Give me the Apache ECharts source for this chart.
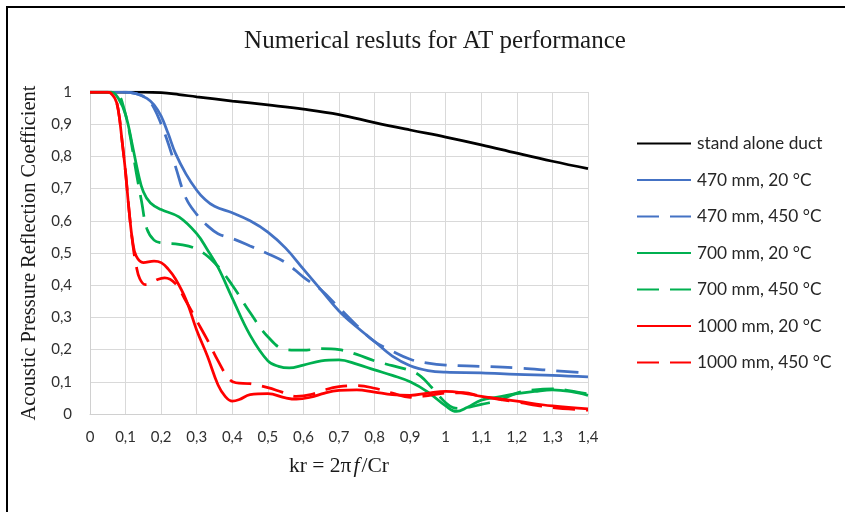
<!DOCTYPE html>
<html>
<head>
<meta charset="utf-8">
<title>Numerical resluts for AT performance</title>
<script src="https://cdn.jsdelivr.net/npm/echarts@6/dist/echarts.min.js"></script>
<style>
  html, body { margin: 0; padding: 0; background: #fff; }
  #chart { width: 845px; height: 512px; }
</style>
</head>
<body>
<div id="chart"></div>
<script>
// Reflection coefficient vs. kr for each duct configuration
const krDuct = [0, 0.1, 0.15, 0.2, 0.25, 0.3, 0.4, 0.5, 0.6, 0.7, 0.8, 0.9, 1.0, 1.1, 1.2, 1.3, 1.4];
const rDuct  = [1, 1, 1, 0.998, 0.992, 0.985, 0.972, 0.96, 0.947, 0.93, 0.905, 0.882, 0.86, 0.836, 0.81, 0.785, 0.762];

const kr470c = [0, 0.1, 0.13, 0.16, 0.18, 0.2, 0.22, 0.24, 0.27, 0.3, 0.32, 0.35, 0.4, 0.45, 0.5, 0.55, 0.6, 0.65, 0.7, 0.75, 0.8, 0.85, 0.9, 0.95, 1.0, 1.1, 1.2, 1.3, 1.4];
const r470c  = [1, 1, 0.995, 0.98, 0.96, 0.925, 0.87, 0.81, 0.745, 0.695, 0.67, 0.645, 0.625, 0.6, 0.565, 0.515, 0.45, 0.385, 0.32, 0.27, 0.225, 0.18, 0.15, 0.135, 0.13, 0.128, 0.123, 0.12, 0.115];

const kr470h = [0, 0.1, 0.13, 0.16, 0.18, 0.2, 0.22, 0.24, 0.27, 0.3, 0.33, 0.36, 0.4, 0.45, 0.5, 0.55, 0.6, 0.65, 0.7, 0.75, 0.8, 0.85, 0.9, 0.95, 1.0, 1.1, 1.2, 1.3, 1.4];
const r470h  = [1, 1, 0.995, 0.98, 0.95, 0.9, 0.84, 0.77, 0.67, 0.62, 0.585, 0.56, 0.545, 0.522, 0.498, 0.47, 0.425, 0.385, 0.33, 0.275, 0.225, 0.195, 0.17, 0.158, 0.152, 0.148, 0.143, 0.135, 0.127];

const kr700c = [0, 0.06, 0.08, 0.1, 0.12, 0.135, 0.15, 0.17, 0.2, 0.25, 0.3, 0.33, 0.36, 0.4, 0.45, 0.5, 0.53, 0.56, 0.6, 0.65, 0.7, 0.75, 0.8, 0.85, 0.9, 0.95, 1.0, 1.03, 1.06, 1.1, 1.15, 1.2, 1.25, 1.3, 1.35, 1.4];
const r700c  = [1, 1, 0.98, 0.93, 0.83, 0.75, 0.69, 0.655, 0.635, 0.612, 0.56, 0.51, 0.455, 0.36, 0.245, 0.165, 0.148, 0.143, 0.152, 0.165, 0.168, 0.155, 0.137, 0.12, 0.1, 0.068, 0.025, 0.008, 0.02, 0.043, 0.053, 0.063, 0.07, 0.075, 0.07, 0.058];

const kr700h = [0, 0.06, 0.08, 0.09, 0.11, 0.13, 0.145, 0.16, 0.18, 0.2, 0.25, 0.3, 0.35, 0.4, 0.45, 0.5, 0.55, 0.6, 0.65, 0.7, 0.75, 0.8, 0.85, 0.9, 0.93, 0.96, 0.98, 1.0, 1.02, 1.04, 1.07, 1.1, 1.15, 1.2, 1.25, 1.3, 1.35, 1.4];
const r700h  = [1, 1, 0.99, 0.97, 0.88, 0.75, 0.66, 0.575, 0.54, 0.532, 0.527, 0.512, 0.47, 0.4, 0.315, 0.24, 0.2, 0.198, 0.203, 0.2, 0.185, 0.165, 0.15, 0.135, 0.117, 0.083, 0.058, 0.035, 0.02, 0.017, 0.022, 0.03, 0.042, 0.065, 0.075, 0.078, 0.072, 0.062];

const kr1000c = [0, 0.05, 0.07, 0.08, 0.09, 0.1, 0.11, 0.12, 0.13, 0.15, 0.18, 0.2, 0.22, 0.24, 0.27, 0.3, 0.33, 0.36, 0.38, 0.4, 0.42, 0.45, 0.5, 0.55, 0.58, 0.62, 0.66, 0.7, 0.75, 0.8, 0.85, 0.9, 0.95, 1.0, 1.05, 1.1, 1.2, 1.3, 1.4];
const r1000c  = [1, 1, 0.98, 0.94, 0.85, 0.75, 0.63, 0.535, 0.49, 0.47, 0.475, 0.47, 0.45, 0.42, 0.355, 0.26, 0.18, 0.09, 0.055, 0.04, 0.045, 0.06, 0.063, 0.05, 0.046, 0.052, 0.065, 0.073, 0.075, 0.068, 0.06, 0.058, 0.065, 0.07, 0.065, 0.055, 0.04, 0.025, 0.016];

const kr1000h = [0, 0.05, 0.07, 0.08, 0.09, 0.1, 0.11, 0.12, 0.13, 0.14, 0.155, 0.17, 0.19, 0.21, 0.24, 0.27, 0.3, 0.33, 0.36, 0.39, 0.41, 0.45, 0.5, 0.54, 0.58, 0.62, 0.66, 0.7, 0.75, 0.8, 0.85, 0.9, 0.95, 1.0, 1.05, 1.1, 1.2, 1.3, 1.4];
const r1000h  = [1, 1, 0.98, 0.94, 0.85, 0.75, 0.63, 0.53, 0.46, 0.42, 0.402, 0.405, 0.418, 0.423, 0.405, 0.35, 0.29, 0.23, 0.165, 0.11, 0.097, 0.094, 0.082, 0.068, 0.055, 0.06, 0.075, 0.085, 0.088, 0.08, 0.065, 0.052, 0.057, 0.065, 0.066, 0.055, 0.037, 0.02, 0.012];

const seriesNames = ['stand alone duct', '470 mm, 20 °C', '470 mm, 450 °C', '700 mm, 20 °C', '700 mm, 450 °C', '1000 mm, 20 °C', '1000 mm, 450 °C'];

// Axis ranges and tick step
const krRange = [0, 1.4];
const rRange = [0, 1];
const tickStep = 0.1;

const pair = (xs, ys) => xs.map((x, i) => [x, ys[i]]);
const decimalComma = v => String(+v.toFixed(1)).replace('.', ',');

const LONG_DASH = [22, 11];
const BLUE = '#4472C4', GREEN = '#00B050', RED = '#FF0000';
const LINE_W = 2.75;

function curve(name, data, color, dashed) {
  return {
    name, type: 'line', data,
    symbol: 'none', smooth: 0.4,
    lineStyle: { color, width: LINE_W, type: dashed ? LONG_DASH : 'solid', cap: 'butt' },
    itemStyle: { color },
    emphasis: { disabled: true },
    animation: false
  };
}

const chart = echarts.init(document.getElementById('chart'), null, { renderer: 'canvas' });

chart.setOption({
  backgroundColor: '#fff',
  animation: false,
  title: {
    text: 'Numerical resluts for AT performance',
    left: 430, top: 24, textAlign: 'center',
    textStyle: { fontFamily: 'Liberation Serif', fontSize: 25, fontWeight: 'normal', color: '#1a1a1a' }
  },
  legend: {
    orient: 'vertical', left: 631, top: 130,
    itemWidth: 54, itemHeight: 16, itemGap: 19.5,
    data: seriesNames,
    itemStyle: { opacity: 0 },
    textStyle: { fontFamily: 'Lato', fontSize: 17.3, color: '#262626', lineHeight: 16, padding: [0, 0, 0, 1] },
    selectedMode: false
  },
  grid: { left: 90, right: 257, top: 92, bottom: 98, outerBoundsMode: 'none' },
  xAxis: {
    type: 'value', min: krRange[0], max: krRange[1], interval: tickStep,
    name: '{n|kr = 2π}{i|f}{n|/Cr}',
    nameLocation: 'middle', nameGap: 41,
    nameTextStyle: {
      rich: {
        n: { fontFamily: 'Liberation Serif', fontSize: 21.5, color: '#1a1a1a' },
        i: { fontFamily: 'Liberation Serif', fontSize: 21.5, fontStyle: 'italic', color: '#1a1a1a', padding: [0, 2, 0, 2] }
      }
    },
    axisLine: { show: true, lineStyle: { color: '#d0d0d0', width: 1 } },
    axisTick: { show: false },
    axisLabel: { formatter: decimalComma, margin: 16, fontFamily: 'Lato', fontSize: 15, color: '#303030' },
    splitLine: { show: true, lineStyle: { color: '#d9d9d9', width: 1 } }
  },
  yAxis: {
    type: 'value', min: rRange[0], max: rRange[1], interval: tickStep,
    name: 'Acoustic Pressure Reflection Coefficient',
    nameLocation: 'middle', nameGap: 48, nameRotate: 90,
    nameTextStyle: { fontFamily: 'Liberation Serif', fontSize: 20.5, color: '#1a1a1a' },
    axisLine: { show: true, lineStyle: { color: '#d0d0d0', width: 1 } },
    axisTick: { show: false },
    axisLabel: { formatter: decimalComma, margin: 18, fontFamily: 'Lato', fontSize: 15, color: '#303030' },
    splitLine: { show: true, lineStyle: { color: '#d9d9d9', width: 1 } }
  },
  graphic: [
    { type: 'line', shape: { x1: 6, y1: 7, x2: 845, y2: 7 }, style: { stroke: '#000', lineWidth: 2 }, silent: true },
    { type: 'line', shape: { x1: 7, y1: 6, x2: 7, y2: 512 }, style: { stroke: '#000', lineWidth: 2 }, silent: true }
  ],
  series: [
    curve(seriesNames[0], pair(krDuct, rDuct), '#000000', false),
    curve(seriesNames[1], pair(kr470c, r470c), BLUE, false),
    curve(seriesNames[2], pair(kr470h, r470h), BLUE, true),
    curve(seriesNames[3], pair(kr700c, r700c), GREEN, false),
    curve(seriesNames[4], pair(kr700h, r700h), GREEN, true),
    curve(seriesNames[5], pair(kr1000c, r1000c), RED, false),
    curve(seriesNames[6], pair(kr1000h, r1000h), RED, true)
  ]
});
</script>
</body>
</html>
